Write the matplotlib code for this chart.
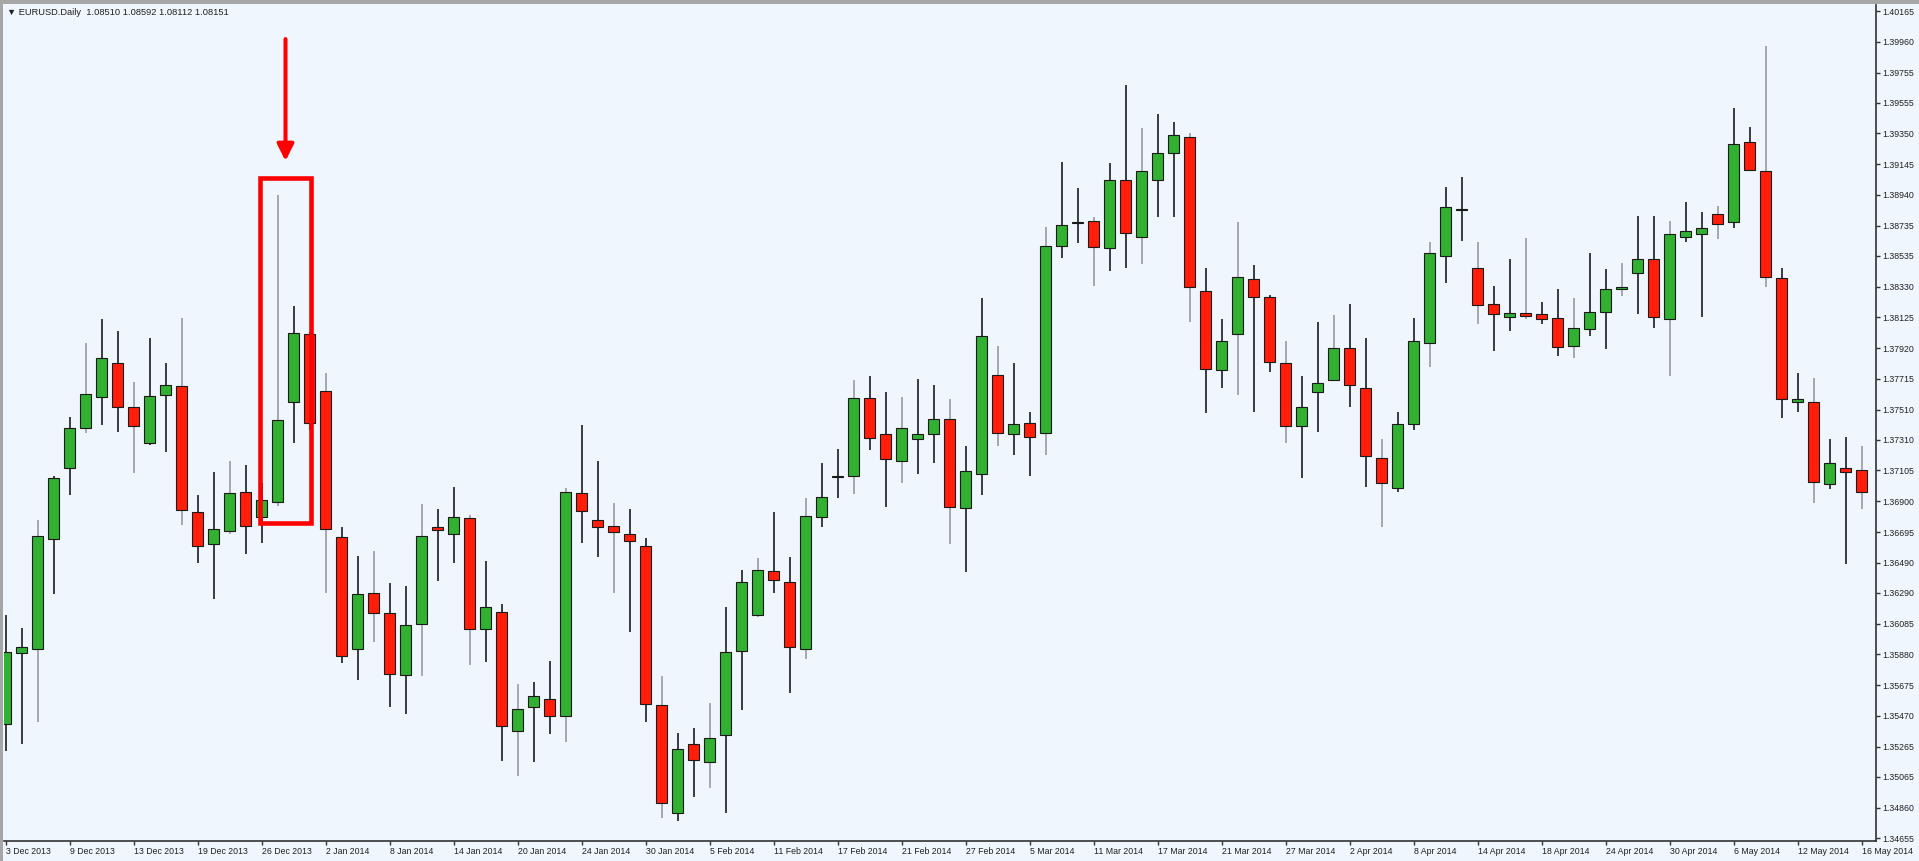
import matplotlib
matplotlib.use("Agg")
import matplotlib.pyplot as plt
import numpy as np
from matplotlib.patches import Rectangle

# EURUSD daily candles, 3 Dec 2013 .. 16 May 2014
opens = [
    1.35416, 1.35891, 1.35918, 1.36650, 1.37119, 1.37390, 1.37596, 1.37822, 1.37525, 1.37286,
    1.37607, 1.37669, 1.36830, 1.36615, 1.36702, 1.36963, 1.36793, 1.36897, 1.37559, 1.38012,
    1.37634, 1.36664, 1.35914, 1.36291, 1.36153, 1.35743, 1.36082, 1.36730, 1.36682, 1.36786,
    1.36049, 1.36164, 1.35372, 1.35531, 1.35585, 1.35469, 1.36957, 1.36775, 1.36735, 1.36680,
    1.36604, 1.35543, 1.34821, 1.35283, 1.35161, 1.35343, 1.35904, 1.36140, 1.36437, 1.36365,
    1.35918, 1.36793, 1.37062, 1.37070, 1.37585, 1.37348, 1.37168, 1.37312, 1.37348, 1.37448,
    1.36853, 1.37081, 1.37741, 1.37348, 1.37423, 1.37352, 1.38602, 1.38752, 1.38766, 1.38584,
    1.39039, 1.38658, 1.39039, 1.39217, 1.39328, 1.38300, 1.37774, 1.38012, 1.38378, 1.38258,
    1.37822, 1.37401, 1.37629, 1.37707, 1.37922, 1.37652, 1.37186, 1.36990, 1.37414, 1.37952,
    1.38535, 1.38840, 1.38451, 1.38211, 1.38129, 1.38151, 1.38145, 1.38118, 1.37936, 1.38047,
    1.38158, 1.38311, 1.38422, 1.38511, 1.38114, 1.38658, 1.38678, 1.38811, 1.38761, 1.39294,
    1.39099, 1.38389, 1.37559, 1.37563, 1.37012, 1.37119, 1.37108]
highs = [
    1.36142, 1.36056, 1.36775, 1.37068, 1.37463, 1.37952, 1.38114, 1.38036, 1.37696, 1.37985,
    1.37822, 1.38118, 1.36941, 1.37097, 1.37170, 1.37141, 1.37019, 1.38939, 1.38200, 1.38027,
    1.37752, 1.36730, 1.36535, 1.36570, 1.36353, 1.36337, 1.36881, 1.36848, 1.36993, 1.36808,
    1.36504, 1.36215, 1.35681, 1.35694, 1.35836, 1.36986, 1.37408, 1.37170, 1.36886, 1.36848,
    1.36653, 1.35738, 1.35354, 1.35387, 1.35554, 1.36193, 1.36442, 1.36520, 1.36830, 1.36527,
    1.36919, 1.37152, 1.37246, 1.37707, 1.37734, 1.37629, 1.37596, 1.37714, 1.37674, 1.37578,
    1.37270, 1.38255, 1.37934, 1.37822, 1.37496, 1.38728, 1.39157, 1.38984, 1.38795, 1.39150,
    1.39672, 1.39383, 1.39479, 1.39427, 1.39350, 1.38451, 1.38111, 1.38761, 1.38473, 1.38273,
    1.37969, 1.37734, 1.38096, 1.38140, 1.38213, 1.37985, 1.37314, 1.37492, 1.38118, 1.38628,
    1.38995, 1.39057, 1.38628, 1.38333, 1.38511, 1.38651, 1.38225, 1.38311, 1.38255, 1.38551,
    1.38445, 1.38488, 1.38800, 1.38800, 1.38768, 1.38895, 1.38824, 1.38866, 1.39517, 1.39390,
    1.39934, 1.38451, 1.37752, 1.37722, 1.37312, 1.37326, 1.37270]
lows = [
    1.35238, 1.35283, 1.35428, 1.36282, 1.36941, 1.37354, 1.37408, 1.37361, 1.37090, 1.37274,
    1.37230, 1.36742, 1.36490, 1.36249, 1.36682, 1.36546, 1.36620, 1.36868, 1.37286, 1.37374,
    1.36291, 1.35824, 1.35709, 1.35964, 1.35531, 1.35483, 1.35736, 1.36371, 1.36486, 1.35809,
    1.35827, 1.35172, 1.35070, 1.35161, 1.35350, 1.35298, 1.36624, 1.36530, 1.36291, 1.36031,
    1.35432, 1.34792, 1.34772, 1.34932, 1.34988, 1.34825, 1.35509, 1.36130, 1.36291, 1.35621,
    1.35847, 1.36730, 1.36919, 1.36946, 1.37241, 1.36859, 1.37019, 1.37081, 1.37152, 1.36615,
    1.36430, 1.36941, 1.37268, 1.37208, 1.37070, 1.37208, 1.38522, 1.38618, 1.38335, 1.38435,
    1.38455, 1.38478, 1.38791, 1.38795, 1.38096, 1.37489, 1.37656, 1.37607, 1.37496, 1.37762,
    1.37286, 1.37053, 1.37361, 1.37700, 1.37529, 1.36997, 1.36730, 1.36959, 1.37374, 1.37796,
    1.38355, 1.38633, 1.38080, 1.37900, 1.38036, 1.38111, 1.38080, 1.37867, 1.37852, 1.38000,
    1.37912, 1.38269, 1.38147, 1.38056, 1.37736, 1.38628, 1.38125, 1.38644, 1.38722, 1.39100,
    1.38325, 1.37452, 1.37492, 1.36890, 1.36979, 1.36480, 1.36848]
closes = [
    1.35896, 1.35931, 1.36668, 1.37053, 1.37386, 1.37612, 1.37856, 1.37529, 1.37401, 1.37601,
    1.37674, 1.36841, 1.36604, 1.36713, 1.36953, 1.36737, 1.36908, 1.37441, 1.38022, 1.37419,
    1.36715, 1.35869, 1.36280, 1.36153, 1.35751, 1.36074, 1.36668, 1.36708, 1.36793, 1.36047,
    1.36193, 1.35405, 1.35514, 1.35605, 1.35469, 1.36961, 1.36835, 1.36730, 1.36697, 1.36635,
    1.35549, 1.34888, 1.35252, 1.35176, 1.35323, 1.35894, 1.36362, 1.36442, 1.36375, 1.35931,
    1.36801, 1.36926, 1.37070, 1.37585, 1.37323, 1.37179, 1.37386, 1.37348, 1.37448, 1.36863,
    1.37103, 1.38000, 1.37352, 1.37412, 1.37330, 1.38602, 1.38740, 1.38760, 1.38595, 1.39039,
    1.38688, 1.39101, 1.39217, 1.39339, 1.38329, 1.37781, 1.37967, 1.38391, 1.38262, 1.37829,
    1.37401, 1.37525, 1.37689, 1.37922, 1.37674, 1.37201, 1.37019, 1.37414, 1.37969, 1.38551,
    1.38861, 1.38848, 1.38207, 1.38147, 1.38151, 1.38135, 1.38114, 1.37929, 1.38052, 1.38162,
    1.38311, 1.38325, 1.38511, 1.38125, 1.38678, 1.38700, 1.38722, 1.38746, 1.39279, 1.39106,
    1.38395, 1.37581, 1.37579, 1.37030, 1.37152, 1.37092, 1.36959]

date_labels = [
    "3 Dec 2013", "9 Dec 2013", "13 Dec 2013", "19 Dec 2013", "26 Dec 2013", "2 Jan 2014",
    "8 Jan 2014", "14 Jan 2014", "20 Jan 2014", "24 Jan 2014", "30 Jan 2014", "5 Feb 2014",
    "11 Feb 2014", "17 Feb 2014", "21 Feb 2014", "27 Feb 2014", "5 Mar 2014", "11 Mar 2014",
    "17 Mar 2014", "21 Mar 2014", "27 Mar 2014", "2 Apr 2014", "8 Apr 2014", "14 Apr 2014",
    "18 Apr 2014", "24 Apr 2014", "30 Apr 2014", "6 May 2014", "12 May 2014", "16 May 2014"]
price_ticks = [
    1.40165, 1.39960, 1.39755, 1.39555, 1.39350, 1.39145, 1.38940, 1.38735, 1.38535, 1.38330,
    1.38125, 1.37920, 1.37715, 1.37510, 1.37310, 1.37105, 1.36900, 1.36695, 1.36490, 1.36290,
    1.36085, 1.35880, 1.35675, 1.35470, 1.35265, 1.35065, 1.34860, 1.34655]

BG = "#f0f6fd"
UP = "#31b131"
DOWN = "#ff1e0a"
FONT = ["Liberation Sans", "DejaVu Sans"]

W, H = 1919, 861
fig = plt.figure(figsize=(W / 100, H / 100), dpi=100, facecolor=BG)
ax = fig.add_axes([4 / W, (H - 840.7) / H, (1876 - 4) / W, (840.7 - 5) / H])
ax.set_facecolor(BG)

o = np.array(opens); h = np.array(highs); l = np.array(lows); c = np.array(closes)
x = np.arange(len(o))
up = c >= o
# wick shading as it comes out of the resampled screenshot
wick_cols = ["#9a9a9a" if i % 3 == 2 else "#1c1c1c" for i in x]
ax.vlines(x, l, h, colors=wick_cols, linewidth=1.2, zorder=2)
bottoms = np.minimum(o, c)
heights = np.maximum(np.abs(c - o), 0.00004)
ax.bar(x, heights, bottom=bottoms, width=0.66, color=np.where(up, UP, DOWN),
       edgecolor="#1a1a1a", linewidth=0.8, zorder=3)

ax.set_xlim(-0.094, 116.906)
ax.set_ylim(1.34639, 1.40205)

ax.set_xticks(np.arange(0, len(o), 4))
ax.set_xticklabels(date_labels, ha="left", fontsize=6.3, family=FONT, color="#202020")
ax.yaxis.tick_right()
ax.set_yticks(price_ticks)
ax.set_yticklabels([f"{p:.5f}" for p in price_ticks], fontsize=6.3, family=FONT, color="#202020")
ax.tick_params(axis="x", direction="out", length=3, width=1, pad=1.5, color="#303030")
ax.tick_params(axis="y", direction="out", length=3, width=1, pad=1.5, color="#303030")
for s in ("top", "left"):
    ax.spines[s].set_visible(False)
for s in ("bottom", "right"):
    ax.spines[s].set_color("#303030")
    ax.spines[s].set_linewidth(1.2)

# window border
fig.patches.append(Rectangle((0, 1 - 4 / H), 1, 4 / H, transform=fig.transFigure,
                             facecolor="#a6a6a6", edgecolor="none"))
fig.patches.append(Rectangle((0, 0), 3 / W, 1, transform=fig.transFigure,
                             facecolor="#a6a6a6", edgecolor="none"))

fig.text(7 / W, 1 - 12.5 / H, "▼ EURUSD.Daily  1.08510 1.08592 1.08112 1.08151",
         fontsize=6.7, family=FONT, color="#202020", va="center", ha="left")

# highlight around the 24-27 Dec candles
ax.add_patch(Rectangle((15.875, 1.36752), 3.19, 0.02301, fill=False,
                       edgecolor="#ff0000", linewidth=3.3, zorder=5))
ax.annotate("", xy=(17.5, 1.39166), xytext=(17.5, 1.39978),
            arrowprops=dict(arrowstyle="-|>,head_length=1.0,head_width=0.5",
                            mutation_scale=10, color="#ff0000", lw=2.9,
                            shrinkA=0, shrinkB=0), zorder=5)

fig.savefig("out.png", dpi=100, facecolor=BG)
